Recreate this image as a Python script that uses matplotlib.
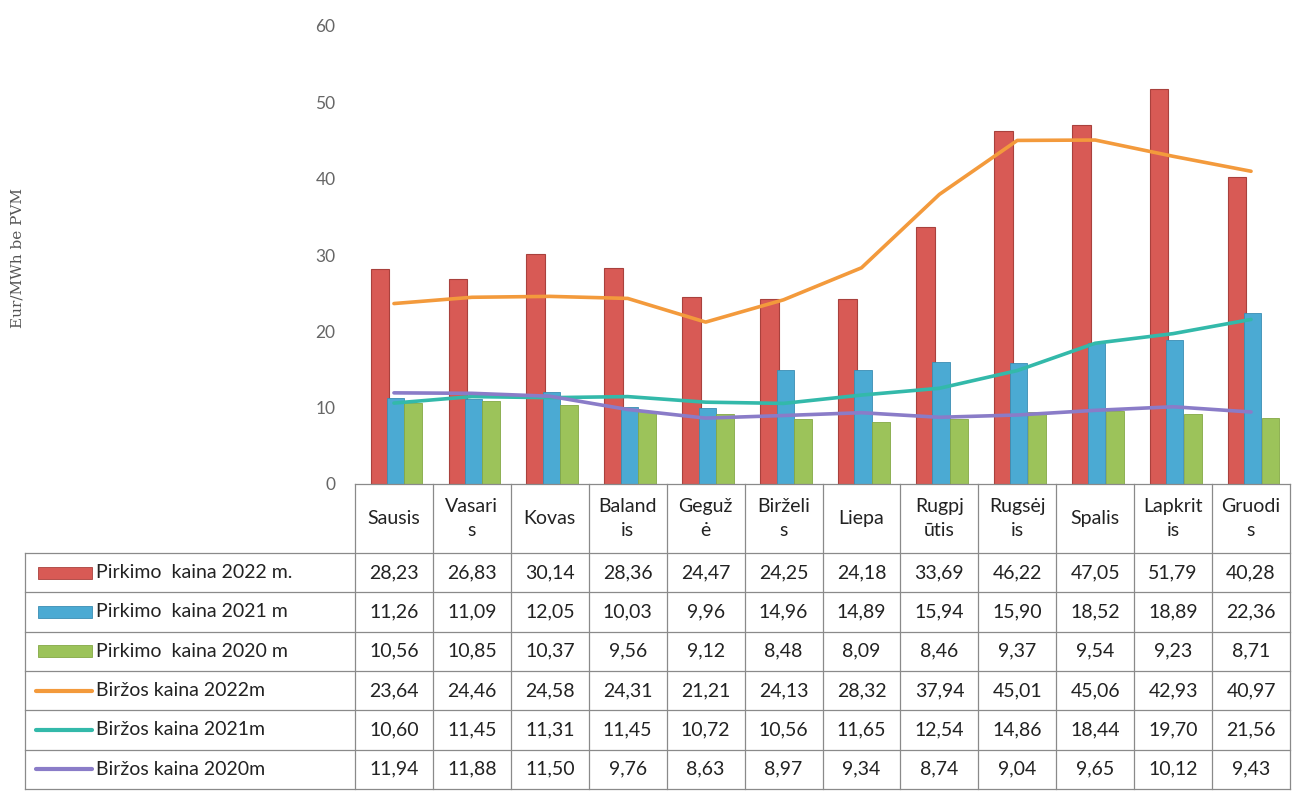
import numpy as np
import matplotlib.pyplot as plt
from matplotlib.patches import Rectangle

# months as they appear (wrapped) in the table header
months = ["Sausis", "Vasari\ns", "Kovas", "Baland\nis", "Geguž\nė", "Birželi\ns",
          "Liepa", "Rugpj\nūtis", "Rugsėj\nis", "Spalis", "Lapkrit\nis", "Gruodi\ns"]

pirkimo_2022 = [28.23, 26.83, 30.14, 28.36, 24.47, 24.25, 24.18, 33.69, 46.22, 47.05, 51.79, 40.28]
pirkimo_2021 = [11.26, 11.09, 12.05, 10.03, 9.96, 14.96, 14.89, 15.94, 15.90, 18.52, 18.89, 22.36]
pirkimo_2020 = [10.56, 10.85, 10.37, 9.56, 9.12, 8.48, 8.09, 8.46, 9.37, 9.54, 9.23, 8.71]
birzos_2022 = [23.64, 24.46, 24.58, 24.31, 21.21, 24.13, 28.32, 37.94, 45.01, 45.06, 42.93, 40.97]
birzos_2021 = [10.60, 11.45, 11.31, 11.45, 10.72, 10.56, 11.65, 12.54, 14.86, 18.44, 19.70, 21.56]
birzos_2020 = [11.94, 11.88, 11.50, 9.76, 8.63, 8.97, 9.34, 8.74, 9.04, 9.65, 10.12, 9.43]

row_labels = ["Pirkimo  kaina 2022 m.", "Pirkimo  kaina 2021 m", "Pirkimo  kaina 2020 m",
              "Biržos kaina 2022m", "Biržos kaina 2021m", "Biržos kaina 2020m"]

bar_colors = ["#D85A55", "#4BAAD3", "#9CC35A"]
bar_edges = ["#A9413D", "#3A8DB3", "#84A845"]
line_colors = ["#F39A3C", "#33B9AA", "#8A7CC8"]

W, H = 1296, 807
fig = plt.figure(figsize=(W / 100, H / 100), dpi=100)
plt.rcParams['font.family'] = ['Lato', 'DejaVu Sans']

left_px, right_px, base_px, top_px = 355, 1290, 484, 26
ax = fig.add_axes([left_px / W, (H - base_px) / H, (right_px - left_px) / W, (base_px - top_px) / H])
x = np.arange(len(months))

ax.bar(x - 0.18, pirkimo_2022, width=0.24, color=bar_colors[0], edgecolor=bar_edges[0], linewidth=0.8, zorder=2)
ax.bar(x + 0.02, pirkimo_2021, width=0.22, color=bar_colors[1], edgecolor=bar_edges[1], linewidth=0.6, zorder=3)
ax.bar(x + 0.25, pirkimo_2020, width=0.23, color=bar_colors[2], edgecolor=bar_edges[2], linewidth=0.6, zorder=3)

for vals, c in zip([birzos_2022, birzos_2021, birzos_2020], line_colors):
    ax.plot(x, vals, color=c, linewidth=2.6, zorder=4, solid_capstyle='round')

ax.set_xlim(-0.5, 11.5)
ax.set_ylim(0, 60)
ax.set_yticks(range(0, 61, 10))
ax.set_xticks([])
ax.tick_params(axis='y', length=0, pad=14, labelsize=12.5, labelcolor='#666666')
for s in ax.spines.values():
    s.set_visible(False)

fig.text(18 / W, 1 - 258 / H, "Eur/MWh be PVM", rotation=90, ha='center', va='center',
         fontsize=11, color='#555555', family='DejaVu Serif')

# data table below the chart, drawn in pixel coordinates
tab = fig.add_axes([0, 0, 1, 1])
tab.set_xlim(0, W)
tab.set_ylim(H, 0)
tab.axis('off')

col_x = left_px + (right_px - left_px) / 12 * np.arange(13)
label_x0 = 25
head_y0, head_y1 = base_px, 553
row_h = 39.3
row_y = head_y1 + row_h * np.arange(7)
gc = '#8a8a8a'
lw = 0.9
fs = 14

# header
tab.plot([col_x[0], col_x[-1]], [head_y0, head_y0], color=gc, lw=lw)
for cx in col_x:
    tab.plot([cx, cx], [head_y0, row_y[-1]], color=gc, lw=lw)
for i, m in enumerate(months):
    tab.text((col_x[i] + col_x[i + 1]) / 2, (head_y0 + head_y1) / 2, m, ha='center', va='center',
             fontsize=fs, color='#222222', linespacing=1.5)

# body rows
for ry in row_y:
    tab.plot([label_x0, col_x[-1]], [ry, ry], color=gc, lw=lw)
tab.plot([label_x0, label_x0], [row_y[0], row_y[-1]], color=gc, lw=lw)

series = [pirkimo_2022, pirkimo_2021, pirkimo_2020, birzos_2022, birzos_2021, birzos_2020]
for r, (lab, vals) in enumerate(zip(row_labels, series)):
    yc = (row_y[r] + row_y[r + 1]) / 2
    if r < 3:
        tab.add_patch(Rectangle((38, yc - 6), 54, 12, facecolor=bar_colors[r], edgecolor=bar_edges[r], lw=0.6))
    else:
        tab.plot([36, 92], [yc, yc], color=line_colors[r - 3], lw=3, solid_capstyle='round')
    tab.text(96, yc, lab, ha='left', va='center', fontsize=fs, color='#222222')
    for i, v in enumerate(vals):
        tab.text((col_x[i] + col_x[i + 1]) / 2, yc, f"{v:.2f}".replace('.', ','), ha='center', va='center',
                 fontsize=fs, color='#222222')

fig.savefig("out.png", dpi=100)
